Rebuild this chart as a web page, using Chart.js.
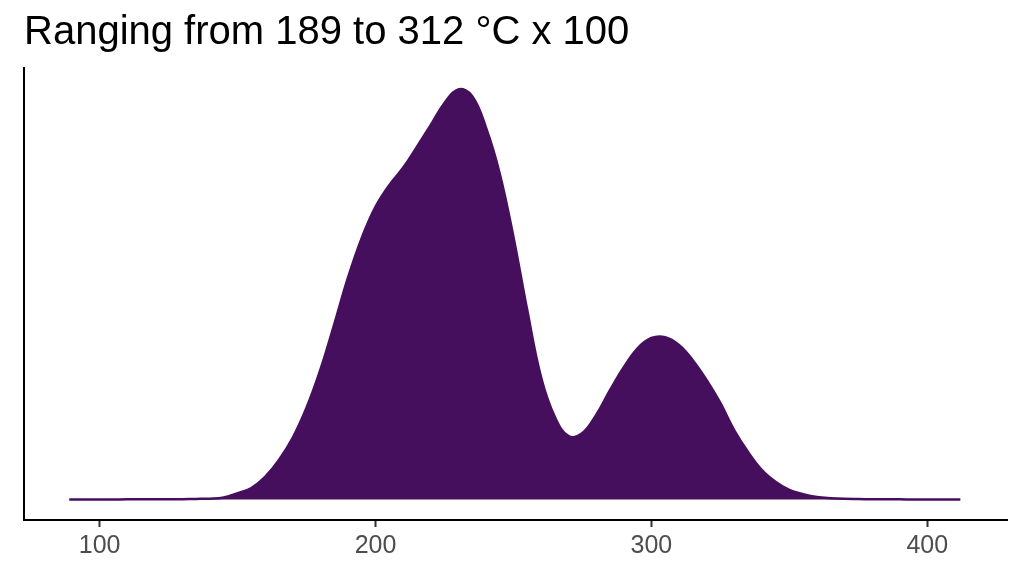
<!DOCTYPE html>
<html>
<head>
<meta charset="utf-8">
<script src="https://cdn.jsdelivr.net/npm/chart.js@4/dist/chart.umd.min.js"></script>
<style>
  html, body { margin: 0; padding: 0; background: #fff; }
  #wrap { width: 1024px; height: 576px; }
</style>
</head>
<body>
<div id="wrap"><canvas id="densityChart"></canvas></div>
<script>
// ----- DATA (relative density, peak = 1) -----
const temps = [89, 95, 100, 105, 110, 115, 120, 125, 130, 135, 140, 145, 150, 155, 160, 165, 170, 175, 180, 185, 190, 195, 200, 205, 210, 215, 220, 225, 230, 235, 240, 245, 250, 255, 260, 265, 270, 275, 280, 285, 290, 295, 300, 305, 310, 315, 320, 325, 330, 335, 340, 345, 350, 355, 360, 365, 370, 375, 380, 385, 390, 395, 400, 405, 410, 412];
const density = [0, 0.0001, 0.0001, 0.0001, 0.0002, 0.0003, 0.0004, 0.0006, 0.0008, 0.0013, 0.002, 0.005, 0.015, 0.028, 0.055, 0.096, 0.150, 0.223, 0.315, 0.425, 0.539, 0.636, 0.712, 0.765, 0.807, 0.858, 0.911, 0.965, 0.998, 0.982, 0.906, 0.794, 0.639, 0.461, 0.298, 0.201, 0.154, 0.162, 0.206, 0.266, 0.322, 0.368, 0.393, 0.395, 0.376, 0.339, 0.291, 0.235, 0.169, 0.116, 0.072, 0.043, 0.023, 0.013, 0.006, 0.003, 0.0015, 0.001, 0.0005, 0.0003, 0.0002, 0.0001, 0.0001, 0.0001, 0.0001, 0];
const tickValues = [100, 200, 300, 400];
const titleText = "Ranging from 189 to 312 °C x 100";

const purple = "#460f5d";
const fontFamily = "'Liberation Sans', Arial, sans-serif";

// ----- TITLE (drawn at the left edge of the plot panel) -----
const titlePlugin = {
    id: "panelTitle",
    afterDraw(chart) {
        const c = chart.ctx;
        c.save();
        c.font = "40px " + fontFamily;
        c.fillStyle = "#000";
        c.textAlign = "left";
        c.textBaseline = "alphabetic";
        c.fillText(titleText, 24, 44);
        c.restore();
    }
};

// ----- CHART -----
const ctx = document.getElementById("densityChart").getContext("2d");

new Chart(ctx, {
    type: "line",
    data: {
        datasets: [{
            data: temps.map((t, i) => ({ x: t, y: density[i] })),
            borderColor: purple,
            backgroundColor: purple,
            borderWidth: 2.5,
            fill: "origin",
            pointRadius: 0,
            tension: 0.4
        }]
    },
    options: {
        responsive: true,
        maintainAspectRatio: false,
        animation: false,
        layout: { padding: { left: 0, right: 17, top: 68, bottom: 0 } },
        plugins: {
            legend: { display: false },
            tooltip: { enabled: false },
            title: { display: false }
        },
        scales: {
            x: {
                type: "linear",
                min: 72.6,
                max: 428.9,
                afterBuildTicks: scale => {
                    scale.ticks = tickValues.map(v => ({ value: v }));
                },
                afterFit: scale => { scale.height = 56; },
                grid: {
                    drawOnChartArea: false,
                    drawTicks: true,
                    tickLength: 7,
                    tickWidth: 2,
                    tickColor: "#333"
                },
                border: { display: true, color: "#000", width: 2 },
                ticks: {
                    color: "#4d4d4d",
                    padding: 4,
                    maxRotation: 0,
                    font: { family: fontFamily, size: 25 }
                }
            },
            y: {
                min: -0.05,
                max: 1.05,
                afterFit: scale => { scale.width = 24; },
                grid: { display: false },
                border: { display: true, color: "#000", width: 2 },
                ticks: { display: false }
            }
        }
    },
    plugins: [titlePlugin]
});
</script>
</body>
</html>
